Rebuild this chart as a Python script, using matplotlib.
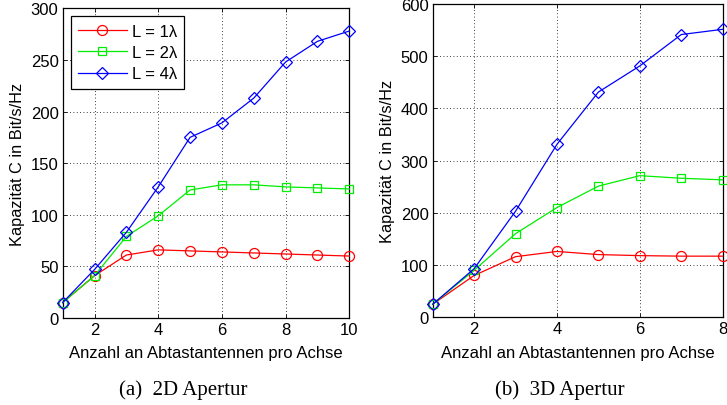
import matplotlib
matplotlib.use("Agg")
import matplotlib.pyplot as plt

plt.rcParams['font.family'] = ['Liberation Sans', 'DejaVu Sans']

# Left: 2D aperture
x2d = [1, 2, 3, 4, 5, 6, 7, 8, 9, 10]
l1_2d = [15, 41, 61, 66, 65, 64, 63, 62, 61, 60]
l2_2d = [15, 41, 79, 99, 124, 129, 129, 127, 126, 125]
l4_2d = [15, 47, 83, 127, 175, 189, 213, 248, 268, 278]

# Right: 3D aperture
x3d = [1, 2, 3, 4, 5, 6, 7, 8]
l1_3d = [25, 80, 116, 126, 120, 118, 117, 117]
l2_3d = [25, 90, 160, 210, 251, 271, 266, 263]
l4_3d = [25, 93, 203, 331, 431, 481, 541, 551]

labels = ['L = 1λ', 'L = 2λ', 'L = 4λ']
colors = ['#ff0000', '#00ee00', '#0000ff']
markers = ['o', 's', 'D']
msizes = [7.2, 6.2, 6.0]

xlabel = 'Anzahl an Abtastantennen pro Achse'
ylabel = 'Kapazität C in Bit/s/Hz'
captions = ['(a)  2D Apertur', '(b)  3D Apertur']

W, H = 727, 406
fig = plt.figure(figsize=(W / 100, H / 100), dpi=100)
ax1 = fig.add_axes([62.7 / W, (H - 319) / H, (349.3 - 62.7) / W, (319 - 9.3) / H])
ax2 = fig.add_axes([432.7 / W, (H - 318.3) / H, (722.7 - 432.7) / W, (318.3 - 4.7) / H])

def style(ax, xs, ys_list, xlim, ylim, xticks, yticks):
    for ys, c, m, ms, lab in zip(ys_list, colors, markers, msizes, labels):
        ax.plot(xs, ys, color=c, marker=m, markersize=ms,
                markerfacecolor='none', markeredgecolor=c, markeredgewidth=0.9,
                linewidth=0.9, label=lab, clip_on=False, zorder=3)
    ax.set_xlim(*xlim)
    ax.set_ylim(*ylim)
    ax.set_xticks(xticks)
    ax.set_yticks(yticks)
    ax.grid(True, linestyle=(0, (1, 3)), color='black', linewidth=0.6)
    ax.tick_params(direction='in', length=3, width=0.6, labelsize=12,
                   top=True, right=True, pad=3)
    for s in ax.spines.values():
        s.set_linewidth(0.9)
    ax.set_xlabel(xlabel, fontsize=12, labelpad=6)
    ax.set_ylabel(ylabel, fontsize=11.8, labelpad=4)

style(ax1, x2d, [l1_2d, l2_2d, l4_2d], (1, 10), (0, 300),
      [2, 4, 6, 8, 10], [0, 50, 100, 150, 200, 250, 300])
style(ax2, x3d, [l1_3d, l2_3d, l4_3d], (1, 8), (0, 600),
      [2, 4, 6, 8], [0, 100, 200, 300, 400, 500, 600])

leg = ax1.legend(loc='upper left', fontsize=12, handlelength=2.9,
                 fancybox=False, framealpha=1, edgecolor='black',
                 borderaxespad=0.48, labelspacing=0.38, handletextpad=0.3,
                 borderpad=0.45)
leg.get_frame().set_linewidth(0.9)

fig.text(183 / W, 1 - 390 / H, captions[0], ha='center', va='center',
         fontsize=15, family=['Liberation Serif', 'DejaVu Serif'])
fig.text(560 / W, 1 - 390 / H, captions[1], ha='center', va='center',
         fontsize=15, family=['Liberation Serif', 'DejaVu Serif'])

fig.savefig('out.png', dpi=100)
